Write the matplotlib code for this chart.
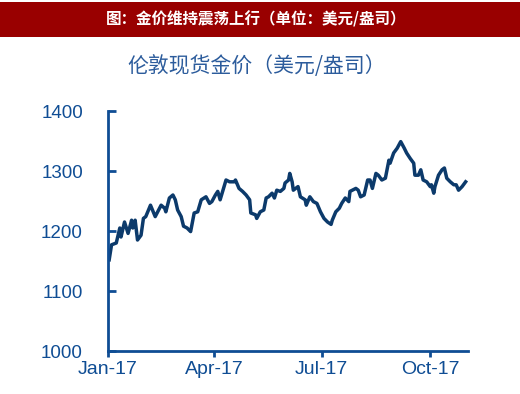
import pandas as pd
import matplotlib
matplotlib.use("Agg")
import matplotlib.pyplot as plt
import matplotlib.dates as mdates
from matplotlib.patches import Rectangle

# London spot gold, USD/oz
dates = [
    "2017-01-02", "2017-01-04", "2017-01-08", "2017-01-11", "2017-01-12", "2017-01-15",
    "2017-01-18", "2017-01-21", "2017-01-22", "2017-01-24", "2017-01-26", "2017-01-29",
    "2017-01-31", "2017-02-02", "2017-02-06", "2017-02-10", "2017-02-15", "2017-02-18",
    "2017-02-19", "2017-02-22", "2017-02-25", "2017-02-27", "2017-03-01", "2017-03-04",
    "2017-03-06", "2017-03-09", "2017-03-12", "2017-03-15", "2017-03-18", "2017-03-21",
    "2017-03-25", "2017-03-28", "2017-03-30", "2017-04-02", "2017-04-04", "2017-04-06",
    "2017-04-11", "2017-04-14", "2017-04-18", "2017-04-19", "2017-04-22", "2017-04-25",
    "2017-04-28", "2017-05-01", "2017-05-02", "2017-05-06", "2017-05-07", "2017-05-10",
    "2017-05-13", "2017-05-15", "2017-05-17", "2017-05-20", "2017-05-22", "2017-05-24",
    "2017-05-27", "2017-05-30", "2017-05-31", "2017-06-03", "2017-06-04", "2017-06-06",
    "2017-06-07", "2017-06-11", "2017-06-13", "2017-06-17", "2017-06-18", "2017-06-21",
    "2017-06-24", "2017-06-27", "2017-06-30", "2017-07-03", "2017-07-06", "2017-07-09",
    "2017-07-10", "2017-07-13", "2017-07-16", "2017-07-18", "2017-07-21", "2017-07-24",
    "2017-07-25", "2017-07-30", "2017-08-01", "2017-08-03", "2017-08-06", "2017-08-09",
    "2017-08-11", "2017-08-13", "2017-08-16", "2017-08-18", "2017-08-21", "2017-08-24",
    "2017-08-27", "2017-08-28", "2017-08-31", "2017-09-03", "2017-09-06", "2017-09-09",
    "2017-09-11", "2017-09-14", "2017-09-17", "2017-09-18", "2017-09-21", "2017-09-23",
    "2017-09-25", "2017-09-28", "2017-10-01", "2017-10-02", "2017-10-04", "2017-10-05",
    "2017-10-08", "2017-10-11", "2017-10-13", "2017-10-15", "2017-10-18", "2017-10-21",
    "2017-10-23", "2017-10-25", "2017-10-28", "2017-10-31",
]
prices = [
    1152, 1177, 1180, 1205, 1190, 1215,
    1196, 1218, 1205, 1218, 1185, 1193,
    1221, 1224, 1243, 1224, 1243, 1238,
    1232, 1255, 1260, 1252, 1235, 1224,
    1208, 1205, 1199, 1230, 1232, 1252,
    1257, 1246, 1249, 1260, 1266, 1252,
    1285, 1282, 1282, 1285, 1271, 1266,
    1260, 1252, 1230, 1227, 1221, 1232,
    1235, 1255, 1257, 1263, 1255, 1268,
    1266, 1271, 1280, 1285, 1296, 1282,
    1268, 1274, 1257, 1252, 1243, 1257,
    1249, 1246, 1232, 1221, 1215, 1211,
    1218, 1232, 1238, 1246, 1255, 1249,
    1266, 1271, 1268, 1257, 1260, 1285,
    1285, 1271, 1296, 1293, 1285, 1288,
    1318, 1313, 1330, 1338, 1349, 1338,
    1330, 1321, 1313, 1293, 1293, 1302,
    1285, 1282, 1274, 1277, 1263, 1274,
    1293, 1302, 1305, 1288, 1282, 1277,
    1277, 1268, 1274, 1282,
]
tick_dates = ["2017-01-01", "2017-04-01", "2017-07-01", "2017-10-01"]
y_ticks = [1000, 1100, 1200, 1300, 1400]

banner_text = "图：金价维持震荡上行（单位：美元/盎司）"
chart_title = "伦敦现货金价（美元/盎司）"

axis_blue = "#0f4d94"
line_navy = "#0c3a6b"
title_blue = "#2c5c9c"
banner_red = "#990000"

cjk = ["Noto Sans CJK SC", "DejaVu Sans"]

fig = plt.figure(figsize=(5.2, 3.94), dpi=100)
fig.patch.set_facecolor("white")

# red header band
fig.patches.append(Rectangle((0, 1 - 37 / 394), 1, 35 / 394, transform=fig.transFigure,
                             facecolor=banner_red, edgecolor="none", zorder=0))
fig.text(0.492, 1 - 19.5 / 394, banner_text, color="white", fontsize=11.2,
         fontweight="bold", family=cjk, ha="center", va="center")
fig.text(0.493, 1 - 66 / 394, chart_title, color=title_blue, fontsize=15,
         family=cjk, ha="center", va="center")

ax = fig.add_axes([108 / 520, 1 - 351 / 394, 360 / 520, 240 / 394])
x = pd.to_datetime(dates)
ax.plot(x, prices, color=line_navy, linewidth=2.5, solid_joinstyle="round")

ax.set_ylim(1000, 1400)
ax.set_xlim(pd.Timestamp("2017-01-01"), pd.Timestamp("2017-11-02"))
ax.set_yticks(y_ticks)
ax.set_xticks(pd.to_datetime(tick_dates))
ax.xaxis.set_major_formatter(mdates.DateFormatter("%b-%y"))

for side in ["top", "right"]:
    ax.spines[side].set_visible(False)
for side in ["left", "bottom"]:
    ax.spines[side].set_color(axis_blue)
    ax.spines[side].set_linewidth(2)

ax.tick_params(axis="y", direction="in", length=6, width=2, color=axis_blue,
               labelcolor=axis_blue, labelsize=13.5, pad=18)
ax.tick_params(axis="x", direction="out", length=4, width=2, color=axis_blue,
               labelcolor=axis_blue, labelsize=14, pad=3)
for lab in ax.get_xticklabels() + ax.get_yticklabels():
    lab.set_family("Liberation Sans")

fig.savefig("out.png", dpi=100)
